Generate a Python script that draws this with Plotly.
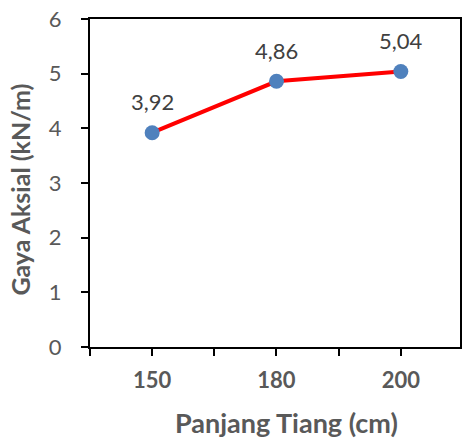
import plotly.graph_objects as go

# Pile length categories and the axial force measured at each
panjang_tiang = ["150", "180", "200"]
gaya_aksial = [3.92, 4.86, 5.04]
y_ticks = [0, 1, 2, 3, 4, 5, 6]

pos = list(range(len(panjang_tiang)))
FONT = "Lato"
GREY = "#595959"

fig = go.Figure()
fig.add_trace(go.Scatter(
    x=pos, y=gaya_aksial, mode="lines+markers",
    line=dict(color="#FF0000", width=4),
    marker=dict(color="#4F81BD", size=15),
    hoverinfo="skip", showlegend=False,
))

# value labels with comma decimal separator
for xi, v in zip(pos, gaya_aksial):
    fig.add_annotation(
        x=xi, y=v, text=f"{v:.2f}".replace(".", ","), showarrow=False,
        yshift=31, font=dict(family=FONT, size=22, color="#404040"),
    )

fig.add_annotation(
    x=-0.19, y=0.479, xref="paper", yref="paper", text="<b>Gaya Aksial (kN/m)</b>",
    textangle=-90, showarrow=False, xanchor="center", yanchor="middle",
    font=dict(family=FONT, size=25, color=GREY),
)
fig.add_annotation(
    x=0.53, y=-0.229, xref="paper", yref="paper", text="<b>Panjang Tiang (cm)</b>",
    showarrow=False, xanchor="center", yanchor="middle",
    font=dict(family=FONT, size=27, color=GREY),
)

fig.update_layout(
    width=462, height=441,
    margin=dict(l=90, r=0, t=19, b=94),
    plot_bgcolor="white", paper_bgcolor="white",
    xaxis=dict(
        range=[-0.5, 2.476], tickmode="array", tickvals=pos, ticktext=panjang_tiang,
        showgrid=False, zeroline=False, showline=True, linecolor="black", linewidth=2,
        mirror=True, ticks="outside", ticklen=7, tickwidth=2, tickcolor="black",
        minor=dict(tickmode="linear", tick0=-0.5, dtick=1, ticks="outside", ticklen=7,
                   tickwidth=2, tickcolor="black", showgrid=False),
        tickfont=dict(family=FONT, size=22, color=GREY, weight="bold"),
        ticklabelstandoff=6,
    ),
    yaxis=dict(
        range=[0, 6], tickvals=y_ticks, showgrid=False, zeroline=False,
        showline=True, linecolor="black", linewidth=2, mirror=True,
        ticks="outside", ticklen=7, tickwidth=2, tickcolor="black",
        tickfont=dict(family=FONT, size=22, color=GREY),
        ticklabelstandoff=15,
    ),
)

fig.write_html("out.html")
